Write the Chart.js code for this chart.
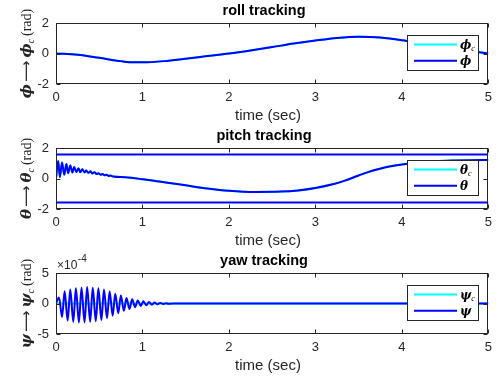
<!DOCTYPE html>
<html>
<head>
<meta charset="utf-8">
<script src="https://cdn.jsdelivr.net/npm/chart.js@4.4.1/dist/chart.umd.min.js"></script>
<style>
  html, body { margin: 0; padding: 0; background: #ffffff; }
  .panel { position: absolute; left: 0; width: 498px; }
  canvas { display: block; }
</style>
</head>
<body>
<div class="panel" style="top:0px"><canvas id="rollChart" width="498" height="125"></canvas></div>
<div class="panel" style="top:125px"><canvas id="pitchChart" width="498" height="125"></canvas></div>
<div class="panel" style="top:250px"><canvas id="yawChart" width="498" height="130"></canvas></div>
<script>
// ================= DATA =================
const timeTicks = [0, 1, 2, 3, 4, 5];
const angleTicks = [-2, 0, 2];
const yawTicks = [-5, 0, 5];          // units of 1e-4 rad

// roll
const rollTime = [0, 0.25, 0.5, 0.75, 0.9, 1.0, 1.25, 1.5, 1.75, 2.0, 2.25, 2.5, 2.75, 3.0, 3.25, 3.5, 3.75, 4.0, 4.25, 4.5, 4.75, 5.0];
const rollCmd  = [0, -0.08, -0.28, -0.5, -0.58, -0.58, -0.5, -0.34, -0.17, 0, 0.2, 0.42, 0.65, 0.85, 1.02, 1.1, 1.05, 0.87, 0.62, 0.4, 0.2, 0];
const rollAct  = [0, -0.08, -0.28, -0.5, -0.58, -0.58, -0.5, -0.34, -0.17, 0, 0.2, 0.42, 0.65, 0.85, 1.02, 1.1, 1.05, 0.87, 0.62, 0.4, 0.2, 0];

// pitch
const pitchTime = [0, 0.025, 0.045, 0.07, 0.095, 0.12, 0.14, 0.165, 0.19, 0.21, 0.235, 0.26, 0.28, 0.305, 0.33, 0.35, 0.375, 0.4, 0.42, 0.445, 0.47, 0.49, 0.515, 0.54, 0.56, 0.585, 0.61, 0.63, 0.66, 0.8, 1.0, 1.25, 1.5, 1.75, 2.0, 2.3, 2.6, 2.8, 3.0, 3.2, 3.35, 3.5, 3.6, 3.8, 4.0, 4.2, 4.4, 4.6, 4.8, 5.0];
const pitchAct  = [0, 1.15, 0.1, 1.05, 0.25, 0.95, 0.35, 0.85, 0.4, 0.75, 0.42, 0.68, 0.42, 0.6, 0.4, 0.53, 0.37, 0.47, 0.33, 0.41, 0.29, 0.35, 0.25, 0.3, 0.21, 0.24, 0.17, 0.19, 0.13, 0.08, -0.05, -0.25, -0.45, -0.65, -0.8, -0.88, -0.86, -0.78, -0.62, -0.38, -0.12, 0.2, 0.4, 0.72, 0.92, 1.05, 1.14, 1.18, 1.2, 1.21];
const pitchCmd  = [0, 1.15, 0.1, 1.05, 0.25, 0.95, 0.35, 0.85, 0.4, 0.75, 0.42, 0.68, 0.42, 0.6, 0.4, 0.53, 0.37, 0.47, 0.33, 0.41, 0.29, 0.35, 0.25, 0.3, 0.21, 0.24, 0.17, 0.19, 0.13, 0.08, -0.05, -0.25, -0.45, -0.65, -0.8, -0.88, -0.86, -0.78, -0.62, -0.38, -0.12, 0.2, 0.4, 0.72, 0.92, 1.05, 1.14, 1.18, 1.2, 1.21];
const pitchBounds = [1.5708, -1.5708];

// yaw (x 1e-4 rad)
const yawTime = [0, 0.035, 0.07, 0.10, 0.135, 0.165, 0.20, 0.23, 0.265, 0.295, 0.33, 0.36, 0.395, 0.425, 0.46, 0.49, 0.525, 0.555, 0.59, 0.62, 0.655, 0.685, 0.72, 0.75, 0.785, 0.815, 0.85, 0.88, 0.915, 0.945, 0.98, 1.01, 1.045, 1.075, 1.11, 1.14, 1.175, 1.205, 1.24, 1.27, 1.30, 1.40, 1.50, 5.0];
const yawAct  = [0, 1.0, -2.2, 2.0, -2.8, 2.3, -3.0, 2.5, -3.1, 2.6, -3.1, 2.7, -3.0, 2.6, -2.9, 2.5, -2.7, 2.3, -2.4, 2.0, -2.0, 1.6, -1.6, 1.3, -1.2, 0.9, -0.9, 0.7, -0.6, 0.5, -0.4, 0.35, -0.3, 0.25, -0.2, 0.15, -0.12, 0.1, -0.08, 0.06, -0.04, 0.02, 0, 0];
const yawCmdTime = [0, 5];
const yawCmd  = [0, 0];


// ================= STYLE =================
const TEXT_COLOR = "#262626";
const BLUE = "#0000ff";
const CYAN = "#00ffff";
const SANS = "'Liberation Sans', Arial, sans-serif";
const SERIF = "'DejaVu Serif', 'Liberation Serif', serif";
const TEXT_SERIF = "'Liberation Serif', 'DejaVu Serif', serif";


// ================= HELPERS =================
function toPoints(xs, ys) {
    return xs.map((x, i) => ({ x: x, y: ys[i] }));
}

function lineSet(label, xs, ys, color) {
    return {
        label: label,
        data: toPoints(xs, ys),
        borderColor: color,
        backgroundColor: color,
        borderWidth: 2,
        pointRadius: 0,
        cubicInterpolationMode: "monotone",
        fill: false
    };
}

// draws text pieces in a row, returns width
function drawPieces(ctx, pieces, x, y, measureOnly) {
    let cx = x;
    pieces.forEach(p => {
        ctx.font = p.font;
        if (!measureOnly) ctx.fillText(p.t, cx, y + (p.dy || 0));
        cx += ctx.measureText(p.t).width + (p.gap || 0);
    });
    return cx - x;
}


// ================= MATLAB-LIKE AXES PLUGIN =================
const matlabAxes = {
    id: "matlabAxes",
    afterDraw(chart, args, opts) {

        const ctx = chart.ctx;
        const area = chart.chartArea;
        const xs = chart.scales.x;
        const ys = chart.scales.y;

        const L = Math.round(area.left) + 0.5;
        const R = Math.round(area.right) - 0.5;
        const T = Math.round(area.top) + 0.5;
        const B = Math.round(area.bottom) - 0.5;

        ctx.save();

        // ticks (inward, all four sides)
        ctx.strokeStyle = TEXT_COLOR;
        ctx.lineWidth = 1;
        ctx.beginPath();
        opts.xTicks.forEach(v => {
            const px = Math.round(xs.getPixelForValue(v)) + 0.5;
            ctx.moveTo(px, B); ctx.lineTo(px, B - 4);
            ctx.moveTo(px, T); ctx.lineTo(px, T + 4);
        });
        opts.yTicks.forEach(v => {
            const py = Math.round(ys.getPixelForValue(v)) + 0.5;
            ctx.moveTo(L, py); ctx.lineTo(L + 4, py);
            ctx.moveTo(R, py); ctx.lineTo(R - 4, py);
        });
        ctx.stroke();

        // box
        ctx.strokeRect(L, T, R - L, B - T);

        // title
        ctx.font = "bold 14.5px " + SANS;
        ctx.textAlign = "center";
        ctx.textBaseline = "middle";
        ctx.fillStyle = "#000000";
        ctx.fillText(opts.title, 264, 11);

        // x label
        ctx.fillStyle = TEXT_COLOR;
        ctx.font = "15px " + SANS;
        ctx.fillText("time (sec)", 268, 116);

        // y label (rotated, math style)
        ctx.textAlign = "left";
        ctx.textBaseline = "alphabetic";
        const yPieces = [
            { t: opts.sym, font: "bold italic 15px " + SERIF, gap: 2 },
            { t: "\u27f6", font: "15px 'DejaVu Sans', sans-serif", gap: 3 },
            { t: opts.sym, font: "bold italic 15px " + SERIF },
            { t: "c", font: "italic 10px " + TEXT_SERIF, dy: 3, gap: 3 },
            { t: "(rad)", font: "14px " + TEXT_SERIF }
        ];
        const yw = drawPieces(ctx, yPieces, 0, 0, true);
        ctx.save();
        ctx.translate(31, (area.top + area.bottom) / 2);
        ctx.rotate(-Math.PI / 2);
        drawPieces(ctx, yPieces, -yw / 2, 0, false);
        ctx.restore();

        // exponent label
        if (opts.exponent) {
            ctx.font = "12px " + SANS;
            ctx.fillText("\u00d710", 57, 19);
            const w = ctx.measureText("\u00d710").width;
            ctx.font = "10px " + SANS;
            ctx.fillText(opts.exponent, 57 + w + 0.5, 12);
        }

        // legend
        const lx = 407.5, ly = 35.5, lw = 71, lh = 35;
        ctx.fillStyle = "#ffffff";
        ctx.fillRect(lx, ly, lw, lh);
        ctx.strokeStyle = TEXT_COLOR;
        ctx.lineWidth = 1;
        ctx.strokeRect(lx, ly, lw, lh);
        opts.legend.forEach((item, i) => {
            const y = 44.5 + i * 16.3;
            ctx.strokeStyle = item.color;
            ctx.lineWidth = 2;
            ctx.beginPath();
            ctx.moveTo(414, y);
            ctx.lineTo(457, y);
            ctx.stroke();
            ctx.fillStyle = "#000000";
            const pieces = [{ t: item.sym, font: "bold italic 12px " + SERIF }];
            if (item.sub) pieces.push({ t: item.sub, font: "italic 8px " + TEXT_SERIF, dy: 2.5 });
            drawPieces(ctx, pieces, 460, y + 4, false);
        });

        ctx.restore();
    }
};


// ================= PANEL FACTORY =================
function makePanel(canvasId, datasets, yTicks, axOpts) {

    const canvas = document.getElementById(canvasId);
    const xHeight = canvas.height - 84;

    return new Chart(canvas, {
        type: "line",
        data: { datasets: datasets },
        options: {
            responsive: false,
            animation: false,
            devicePixelRatio: 1,
            layout: { padding: { top: 23, right: 8, left: 0, bottom: 0 } },
            plugins: {
                legend: { display: false },
                title: { display: false },
                tooltip: { enabled: false },
                matlabAxes: Object.assign({ xTicks: timeTicks, yTicks: yTicks }, axOpts)
            },
            scales: {
                x: {
                    type: "linear",
                    min: timeTicks[0],
                    max: timeTicks[timeTicks.length - 1],
                    afterBuildTicks: s => { s.ticks = timeTicks.map(v => ({ value: v })); },
                    afterFit: s => { s.height = xHeight; },
                    grid: { display: false, drawTicks: false },
                    border: { display: false },
                    ticks: {
                        padding: 6,
                        color: TEXT_COLOR,
                        font: { family: SANS, size: 13 },
                        maxRotation: 0
                    }
                },
                y: {
                    type: "linear",
                    min: yTicks[0],
                    max: yTicks[yTicks.length - 1],
                    afterBuildTicks: s => { s.ticks = yTicks.map(v => ({ value: v })); },
                    afterFit: s => { s.width = 56; },
                    grid: { display: false, drawTicks: false },
                    border: { display: false },
                    ticks: {
                        padding: 7,
                        color: TEXT_COLOR,
                        font: { family: SANS, size: 13 }
                    }
                }
            }
        },
        plugins: [matlabAxes]
    });
}


// ================= INIT =================
makePanel("rollChart", [
    lineSet("\u03d5", rollTime, rollAct, BLUE),
    lineSet("\u03d5c", rollTime, rollCmd, CYAN)
], angleTicks, {
    title: "roll tracking",
    sym: "\u03d5",
    legend: [
        { sym: "\u03d5", sub: "c", color: CYAN },
        { sym: "\u03d5", sub: "", color: BLUE }
    ]
});

makePanel("pitchChart", [
    lineSet("\u03b8", pitchTime, pitchAct, BLUE),
    lineSet("upper", [0, 5], [pitchBounds[0], pitchBounds[0]], BLUE),
    lineSet("lower", [0, 5], [pitchBounds[1], pitchBounds[1]], BLUE),
    lineSet("\u03b8c", pitchTime, pitchCmd, CYAN)
], angleTicks, {
    title: "pitch tracking",
    sym: "\u03b8",
    legend: [
        { sym: "\u03b8", sub: "c", color: CYAN },
        { sym: "\u03b8", sub: "", color: BLUE }
    ]
});

makePanel("yawChart", [
    lineSet("\u03c8", yawTime, yawAct, BLUE),
    lineSet("\u03c8c", yawCmdTime, yawCmd, CYAN)
], yawTicks, {
    title: "yaw tracking",
    sym: "\u03c8",
    exponent: "-4",
    legend: [
        { sym: "\u03c8", sub: "c", color: CYAN },
        { sym: "\u03c8", sub: "", color: BLUE }
    ]
});
</script>
</body>
</html>
